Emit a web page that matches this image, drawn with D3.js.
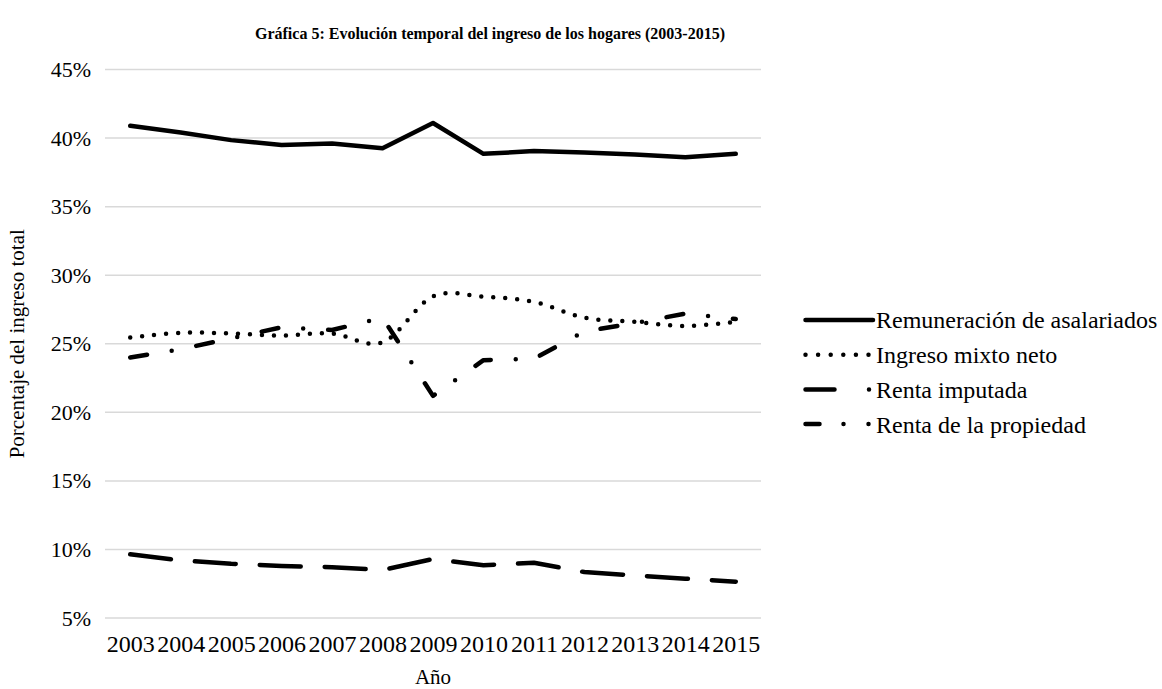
<html>
<head>
    <title>Gráfica 5</title>
    <script src="https://d3js.org/d3.v7.min.js"></script>
    <style>
        body { margin: 0; background: #fff; }
        text { font-family: "Liberation Serif", "Times New Roman", serif; fill: #000; }
        .grid line { stroke: #d9d9d9; stroke-width: 1.5; }
        .series { fill: none; stroke: #000; stroke-width: 4.5; stroke-linecap: round; stroke-linejoin: round; }
    </style>
</head>
<body>
<div id="chart"></div>
<script>
    // data (% of total household income)
    var years = [2003, 2004, 2005, 2006, 2007, 2008, 2009, 2010, 2011, 2012, 2013, 2014, 2015];
    var remuneracion = [40.9, 40.4, 39.85, 39.5, 39.6, 39.25, 41.1, 38.85, 39.05, 38.95, 38.8, 38.6, 38.85];
    var ingresoMixto = [25.45, 25.8, 25.75, 25.6, 25.75, 25.1, 28.45, 28.43, 28.05, 26.9, 26.6, 26.3, 26.6];
    var rentaImputada = [24.0, 24.6, 25.4, 26.2, 26.0, 26.9, 21.2, 23.8, 23.9, 25.9, 26.5, 27.2, 26.8];
    var rentaPropiedad = [9.65, 9.2, 8.95, 8.8, 8.7, 8.5, 9.3, 8.85, 9.03, 8.35, 8.1, 7.87, 7.65];
    var yTicks = [5, 10, 15, 20, 25, 30, 35, 40, 45];
    var seriesNames = ["Remuneración de asalariados", "Ingreso mixto neto", "Renta imputada", "Renta de la propiedad"];

    var width = 1162, height = 689;
    var plot = {left: 105, right: 761, top: 69.5, bottom: 618};

    var svg = d3.select("#chart").append("svg")
        .attr("width", width)
        .attr("height", height);

    var x = d3.scalePoint().domain(years).range([plot.left, plot.right]).padding(0.5);
    var y = d3.scaleLinear().domain([5, 45]).range([plot.bottom, plot.top]);

    // gridlines
    svg.append("g")
        .attr("class", "grid")
        .selectAll("line")
        .data(yTicks)
        .enter().append("line")
        .attr("x1", plot.left)
        .attr("x2", plot.right)
        .attr("y1", function(d) { return y(d); })
        .attr("y2", function(d) { return y(d); });

    // y axis labels
    var yAxis = svg.append("g")
        .attr("transform", "translate(" + (plot.left - 14) + ",0)")
        .call(d3.axisLeft(y).tickValues(yTicks).tickSize(0).tickPadding(0).tickFormat(function(d) { return d + "%"; }));
    yAxis.select(".domain").remove();
    yAxis.selectAll("text").style("font-size", "22px").attr("font-family", null);

    // x axis labels
    var xAxis = svg.append("g")
        .attr("transform", "translate(0," + (plot.bottom + 17) + ")")
        .call(d3.axisBottom(x).tickSize(0).tickPadding(0));
    xAxis.select(".domain").remove();
    xAxis.selectAll("text").style("font-size", "24px").attr("font-family", null).attr("dy", "0.71em");

    var series = [
        {name: seriesNames[0], values: remuneracion, dash: null, curve: d3.curveLinear},
        {name: seriesNames[1], values: ingresoMixto, dash: "0,12", curve: d3.curveCardinal.tension(0)},
        {name: seriesNames[2], values: rentaImputada, dash: "17,25,0,25", curve: d3.curveLinear},
        {name: seriesNames[3], values: rentaPropiedad, dash: "41,24", curve: d3.curveLinear}
    ];

    series.forEach(function(s) {
        var line = d3.line()
            .x(function(d, i) { return x(years[i]); })
            .y(function(d) { return y(d); })
            .curve(s.curve);
        svg.append("path")
            .datum(s.values)
            .attr("class", "series")
            .attr("stroke-dasharray", s.dash)
            .attr("d", line);
    });

    // legend
    var legendDash = [null, "0,12.6", "29,34.5,0,40", "14,24,0,25,0,40"];
    var legendEnd = [873, 869.5, 871, 871];
    var legend = svg.append("g");
    seriesNames.forEach(function(name, i) {
        var ly = 320 + i * 34.7;
        legend.append("line")
            .attr("class", "series")
            .attr("x1", 805.5)
            .attr("x2", legendEnd[i])
            .attr("y1", ly)
            .attr("y2", ly)
            .attr("stroke-dasharray", legendDash[i]);
        legend.append("text")
            .attr("x", 876)
            .attr("y", ly)
            .attr("dy", "0.35em")
            .style("font-size", "24px")
            .text(name);
    });

    // titles
    svg.append("text")
        .attr("x", 490)
        .attr("y", 39)
        .attr("text-anchor", "middle")
        .style("font-size", "16px")
        .style("font-weight", "bold")
        .text("Gráfica 5: Evolución temporal del ingreso de los hogares (2003-2015)");

    svg.append("text")
        .attr("x", (plot.left + plot.right) / 2)
        .attr("y", 684)
        .attr("text-anchor", "middle")
        .style("font-size", "21px")
        .text("Año");

    svg.append("text")
        .attr("transform", "translate(24," + ((plot.top + plot.bottom) / 2) + ") rotate(-90)")
        .attr("text-anchor", "middle")
        .style("font-size", "21px")
        .text("Porcentaje del ingreso total");
</script>
</body>
</html>
